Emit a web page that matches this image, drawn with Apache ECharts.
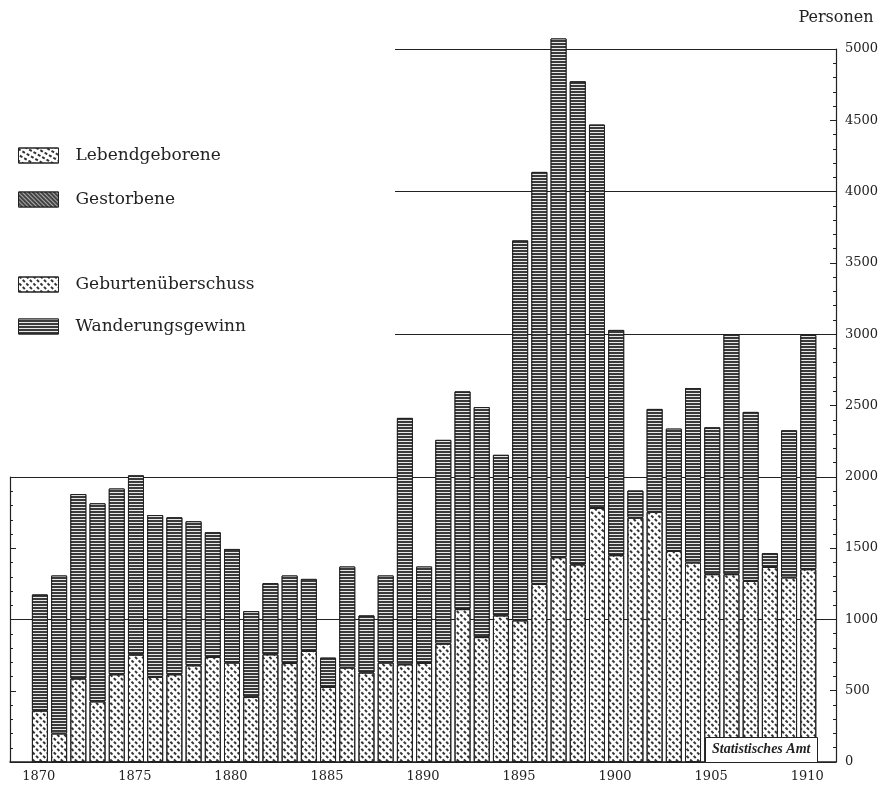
<!DOCTYPE html>
<html>
  <head>
    <meta charset="utf-8" />
    <script src="https://cdn.jsdelivr.net/npm/echarts@6/dist/echarts.min.js"></script>
    <style>
      html, body { margin: 0; padding: 0; background: #fff; }
      #chart { width: 885px; height: 791px; }
    </style>
  </head>
  <body>
    <div id="chart"></div>
    <script>
      // Jahre 1870 - 1910
      var years = []
      for (var y = 1870; y <= 1910; y++) years.push(String(y))

      // Geburtenüberschuss (unterer Teil der Säule)
      var geburtenueberschuss = [
        360, 200, 585, 425, 615, 753, 597, 615, 678, 737,
        697, 457, 755, 694, 779, 527, 662, 627, 697, 685,
        695, 830, 1072, 876, 1028, 993, 1249, 1436, 1385, 1781,
        1450, 1713, 1755, 1480, 1399, 1317, 1317, 1270, 1368, 1294,
        1352
      ]
      // Wanderungsgewinn (oberer Teil der Säule)
      var wanderungsgewinn = [
        815, 1108, 1294, 1389, 1303, 1257, 1135, 1101, 1010, 874,
        797, 601, 499, 614, 505, 205, 709, 401, 611, 1728,
        676, 1429, 1527, 1613, 1126, 2665, 2889, 3638, 3389, 2689,
        1580, 191, 721, 858, 1223, 1030, 1683, 1185, 96, 1032,
        1643
      ]

      // eine leere Kategorie links und rechts als Rand
      var cats = [''].concat(years, [''])
      function pad(arr) { return [null].concat(arr, [null]) }

      var serif = 'DejaVu Serif'
      var ink = '#222'

      var decalDots = { symbol: 'rect', symbolSize: 1, dashArrayX: [1.2, 2.2], dashArrayY: [3, 1.6], color: '#333' }
      var decalLines = { symbol: 'rect', symbolSize: 1, dashArrayX: [1, 0], dashArrayY: [1, 2], color: '#e8e8e8' }
      var decalWave = { symbol: 'rect', symbolSize: 1, dashArrayX: [3, 1.5], dashArrayY: [1.2, 2.5], color: '#333' }
      var decalDark = { symbol: 'rect', symbolSize: 1, dashArrayX: [1, 0], dashArrayY: [1, 2], rotation: Math.PI / 4, color: '#aaa' }

      var chart = echarts.init(document.getElementById('chart'))
      var option = {
        backgroundColor: '#fff',
        animation: false,
        aria: { enabled: true, decal: { show: true } },
        legend: [
          {
            data: ['Lebendgeborene', 'Gestorbene'],
            orient: 'vertical', left: 13, top: 142,
            itemWidth: 40, itemHeight: 15, itemGap: 27, icon: 'rect',
            itemStyle: { borderColor: ink, borderWidth: 1 },
            textStyle: { fontFamily: serif, fontSize: 17, color: ink, padding: [0, 0, 0, 12] },
            selectedMode: false
          },
          {
            data: ['Geburtenüberschuss', 'Wanderungsgewinn'],
            orient: 'vertical', left: 13, top: 271,
            itemWidth: 40, itemHeight: 15, itemGap: 25, icon: 'rect',
            itemStyle: { borderColor: ink, borderWidth: 1 },
            textStyle: { fontFamily: serif, fontSize: 17, color: ink, padding: [0, 0, 0, 12] },
            selectedMode: false
          }
        ],
        grid: [
          { left: 10, right: 49, top: 49, bottom: 29 },
          { left: 10, right: 49, top: 477, bottom: 29 },
          { left: 395, right: 49, top: 49, bottom: 29 }
        ],
        xAxis: [
          {
            gridIndex: 0, type: 'category', data: cats,
            axisLine: { lineStyle: { color: ink, width: 1.5 } },
            axisTick: { show: false },
            axisLabel: {
              interval: function (i, v) { return v !== '' && Number(v) % 5 === 0 },
              fontFamily: serif, fontSize: 13, color: ink, margin: 8
            }
          },
          { gridIndex: 1, type: 'category', data: cats, show: false },
          { gridIndex: 2, type: 'value', show: false }
        ],
        yAxis: [
          {
            gridIndex: 0, type: 'value', position: 'right', min: 0, max: 5000, interval: 500,
            name: 'Personen', nameLocation: 'end', nameGap: 23,
            nameTextStyle: { fontFamily: serif, fontSize: 16, color: ink, align: 'center' },
            axisLine: { show: true, lineStyle: { color: ink, width: 1.2 } },
            axisTick: { show: true, inside: true, length: 6, lineStyle: { color: ink } },
            minorTick: { show: true, splitNumber: 5, length: 3, lineStyle: { color: ink } },
            axisLabel: {
              fontFamily: serif, fontSize: 13, color: ink, margin: 9,
              formatter: function (v) { return String(v) }
            },
            splitLine: { show: false }
          },
          {
            gridIndex: 1, type: 'value', position: 'left', min: 0, max: 2000, interval: 1000,
            axisLine: { show: false }, axisTick: { show: false }, axisLabel: { show: false },
            splitLine: { show: true, lineStyle: { color: ink, width: 1.2 } }
          },
          {
            gridIndex: 1, type: 'value', position: 'left', min: 0, max: 2000, interval: 500,
            axisLine: { show: true, lineStyle: { color: ink, width: 1.2 } },
            axisTick: { show: true, inside: true, length: 6, lineStyle: { color: ink } },
            minorTick: { show: true, splitNumber: 5, length: 3, lineStyle: { color: ink } },
            axisLabel: { show: false }, splitLine: { show: false }
          },
          {
            gridIndex: 2, type: 'value', min: 0, max: 5000, interval: 1000,
            axisLine: { show: false }, axisTick: { show: false }, axisLabel: { show: false },
            splitLine: { show: true, lineStyle: { color: ink, width: 1.2 } }
          }
        ],
        series: [
          {
            name: 'Lebendgeborene', type: 'bar', data: [],
            itemStyle: { color: '#fff', decal: decalWave }
          },
          {
            name: 'Gestorbene', type: 'bar', data: [],
            itemStyle: { color: '#444', decal: decalDark }
          },
          {
            name: 'Geburtenüberschuss', type: 'bar', stack: 'gesamt', barWidth: 16, z: 3, clip: false,
            data: pad(geburtenueberschuss),
            itemStyle: { color: '#fff', borderColor: ink, borderWidth: 1, decal: decalDots }
          },
          {
            name: 'Wanderungsgewinn', type: 'bar', stack: 'gesamt', barWidth: 16, z: 3, clip: false,
            data: pad(wanderungsgewinn),
            itemStyle: { color: '#3a3a3a', borderColor: ink, borderWidth: 1, decal: decalLines }
          }
        ],
        graphic: [
          {
            type: 'rect', z: 100, left: 705, top: 737,
            shape: { width: 112, height: 25 },
            style: { fill: '#fff', stroke: ink, lineWidth: 1 }
          },
          {
            type: 'text', z: 101, left: 712, top: 742,
            style: { text: 'Statistisches Amt', font: 'italic bold 14px "Liberation Serif"', fill: ink }
          }
        ]
      }
      chart.setOption(option)
    </script>
  </body>
</html>
